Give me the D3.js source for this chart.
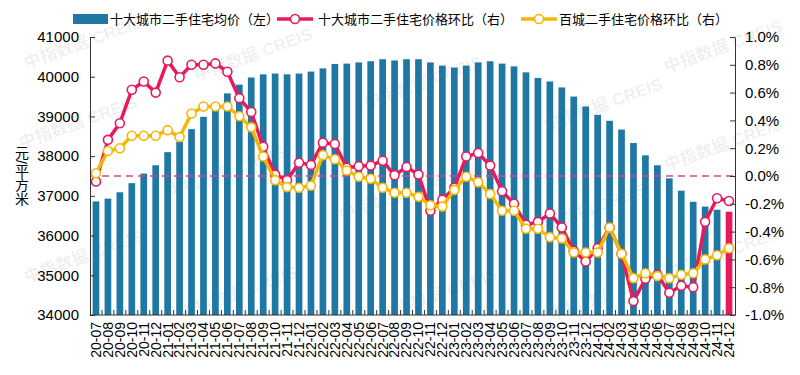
<!DOCTYPE html>
<html>
<head>
<meta charset="utf-8">
<script src="https://cdn.jsdelivr.net/npm/d3@7"></script>
<style>
  html, body { margin: 0; padding: 0; background: #fff; }
  svg { display: block; font-family: "Liberation Sans", Arial, "Noto Sans CJK SC", sans-serif; }
</style>
</head>
<body>
<svg id="chart" width="800" height="375"></svg>
<script>
// ---- data ----
const months = [
  "20-07","20-08","20-09","20-10","20-11","20-12",
  "21-01","21-02","21-03","21-04","21-05","21-06","21-07","21-08","21-09","21-10","21-11","21-12",
  "22-01","22-02","22-03","22-04","22-05","22-06","22-07","22-08","22-09","22-10","22-11","22-12",
  "23-01","23-02","23-03","23-04","23-05","23-06","23-07","23-08","23-09","23-10","23-11","23-12",
  "24-01","24-02","24-03","24-04","24-05","24-06","24-07","24-08","24-09","24-10","24-11","24-12"
];

// 十大城市二手住宅均价（元/平方米）
const avgPrice = [
  36860, 36930, 37090, 37320, 37560, 37770,
  38100, 38360, 38680, 38990, 39180, 39580, 39800, 39980, 40060, 40080, 40060, 40080,
  40130, 40210, 40320, 40330, 40360, 40390, 40440, 40410, 40440, 40440, 40360, 40280,
  40230, 40280, 40360, 40390, 40330, 40260, 40110, 39970, 39880, 39730, 39500, 39250,
  39040, 38890, 38670, 38330, 38020, 37770, 37440, 37130, 36850, 36730, 36650, 36600
];

// 十大城市二手住宅价格环比（%）
const tenCityMoM = [
  -0.04, 0.26, 0.38, 0.62, 0.68, 0.60,
  0.83, 0.71, 0.80, 0.80, 0.81, 0.75, 0.56, 0.46, 0.21, 0.01, -0.03, 0.095,
  0.08, 0.24, 0.23, 0.06, 0.07, 0.075, 0.11, 0.005, 0.065, 0.01, -0.25, -0.17,
  -0.085, 0.14, 0.165, 0.075, -0.11, -0.20, -0.35, -0.33, -0.27, -0.37, -0.54, -0.615,
  -0.52, -0.37, -0.56, -0.90, -0.74, -0.71, -0.84, -0.79, -0.80, -0.33, -0.16, -0.18
];

// 百城二手住宅价格环比（%）
const hundredCityMoM = [
  0.02, 0.18, 0.20, 0.29, 0.29, 0.29,
  0.33, 0.28, 0.45, 0.50, 0.50, 0.50, 0.43, 0.35, 0.14, -0.03, -0.08, -0.085,
  -0.07, 0.15, 0.12, 0.04, -0.005, -0.02, -0.085, -0.12, -0.12, -0.15, -0.21, -0.22,
  -0.10, -0.005, -0.045, -0.13, -0.25, -0.25, -0.38, -0.38, -0.44, -0.45, -0.55, -0.55,
  -0.55, -0.37, -0.56, -0.735, -0.70, -0.72, -0.735, -0.71, -0.70, -0.60, -0.57, -0.52
];

const leftTicks  = [34000, 35000, 36000, 37000, 38000, 39000, 40000, 41000];
const rightTicks = [-1.0, -0.8, -0.6, -0.4, -0.2, 0.0, 0.2, 0.4, 0.6, 0.8, 1.0];

const legendLabels = ["十大城市二手住宅均价（左）", "十大城市二手住宅价格环比（右）", "百城二手住宅价格环比（右）"];
const yTitle = "元/平方米";

// ---- colours / layout ----
const BLUE = "#1f77a4", RED = "#e8195c", YELLOW = "#f6b700", ZERO = "#d4458c";
const L = 90, R = 735, T = 37, B = 315;

const svg = d3.select("#chart");

// 水印
const gMark = svg.append("g").attr("fill", "#000").attr("fill-opacity", 0.07)
  .attr("font-size", 17).attr("font-weight", "bold");
[[85,48],[255,60],[425,88],[605,110],[725,52],[80,128],[228,178],[400,200],
 [590,215],[725,150],[725,258],[85,262],[240,298],[440,300],[610,300]].forEach(([cx,cy])=>{
  gMark.append("text").attr("text-anchor","middle")
    .attr("transform",`translate(${cx},${cy}) rotate(-20)`)
    .text("中指数据 CREIS");
});

const x = d3.scaleBand().domain(months).range([L, R]).paddingInner(0.44).paddingOuter(0.22);
const yL = d3.scaleLinear().domain([34000, 41000]).range([B, T]);
const yR = d3.scaleLinear().domain([-1, 1]).range([B, T]);
const cx = d => x(d) + x.bandwidth() / 2;

// bars
svg.append("g").selectAll("rect")
  .data(months)
  .join("rect")
  .attr("x", d => x(d))
  .attr("width", x.bandwidth())
  .attr("y", (d, i) => yL(avgPrice[i]))
  .attr("height", (d, i) => B - yL(avgPrice[i]))
  .attr("fill", (d, i) => i === months.length - 1 ? RED : BLUE);

// 0% 虚线
svg.append("line")
  .attr("x1", L).attr("x2", R).attr("y1", yR(0)).attr("y2", yR(0))
  .attr("stroke", ZERO).attr("stroke-width", 1.5).attr("stroke-dasharray", "7,5");

// lines
function drawSeries(vals, color){
  const g = svg.append("g");
  const line = d3.line().x((d, i) => cx(months[i])).y(d => yR(d));
  g.append("path").datum(vals).attr("d", line)
    .attr("fill", "none").attr("stroke", color).attr("stroke-width", 3.5)
    .attr("stroke-linejoin", "round");
  g.selectAll("circle").data(vals).join("circle")
    .attr("cx", (d, i) => cx(months[i])).attr("cy", d => yR(d)).attr("r", 4.5)
    .attr("fill", "#fff").attr("stroke", color).attr("stroke-width", 1.6);
}
drawSeries(tenCityMoM, RED);
drawSeries(hundredCityMoM, YELLOW);

// axes
const axisColor = "#333";
const gl = svg.append("g").attr("transform", `translate(${L},0)`)
  .call(d3.axisLeft(yL).tickValues(leftTicks).tickSizeInner(-5).tickSizeOuter(0).tickPadding(11).tickFormat(d3.format("d")));
const gr = svg.append("g").attr("transform", `translate(${R},0)`)
  .call(d3.axisRight(yR).tickValues(rightTicks).tickSizeInner(-5).tickSizeOuter(0).tickPadding(10).tickFormat(d => d.toFixed(1) + "%"));
[gl, gr].forEach(g => {
  g.select(".domain").attr("stroke", axisColor);
  g.selectAll(".tick line").attr("stroke", axisColor);
  g.selectAll(".tick text").attr("font-size", 15).attr("fill", "#000")
    .attr("font-family", "'Liberation Sans', Arial, sans-serif");
});

// x axis
const gx = svg.append("g").attr("transform", `translate(0,${B})`)
  .call(d3.axisBottom(x).tickSize(0).tickPadding(0));
gx.select(".domain").remove();
gx.append("line").attr("x1", L).attr("x2", R).attr("stroke", axisColor);
gx.selectAll(".tick text")
  .attr("font-size", 14).attr("fill", "#000")
  .attr("font-family", "'Liberation Sans', Arial, sans-serif")
  .attr("text-anchor", "end").attr("dy", "0.35em")
  .attr("transform", "translate(0,7) rotate(-90)");
// minor ticks between categories
gx.append("g").selectAll("line")
  .data(months.slice(1))
  .join("line")
  .attr("x1", d => x(d) - x.step() * x.paddingInner() / 2)
  .attr("x2", d => x(d) - x.step() * x.paddingInner() / 2)
  .attr("y1", 0).attr("y2", -5)
  .attr("stroke", axisColor);

// y label (竖排)
svg.append("text")
  .attr("x", 21).attr("y", 146)
  .style("writing-mode", "vertical-rl")
  .attr("font-size", 14)
  .attr("font-family", "'Liberation Sans', 'Noto Sans CJK SC', sans-serif")
  .text(yTitle);

// legend
const gLeg = svg.append("g").attr("font-size", 13).attr("font-family", "'Noto Sans CJK SC', sans-serif");
const legY = 19;
gLeg.append("rect").attr("x", 73).attr("y", legY - 5).attr("width", 35).attr("height", 10).attr("fill", BLUE);
gLeg.append("text").attr("x", 110).attr("y", legY).attr("dy", "0.35em").text(legendLabels[0]);
[[277, RED, legendLabels[1], 318], [521, YELLOW, legendLabels[2], 559]].forEach(([lx, c, t, tx]) => {
  gLeg.append("line").attr("x1", lx).attr("x2", lx + 36).attr("y1", legY).attr("y2", legY)
    .attr("stroke", c).attr("stroke-width", 3.5);
  gLeg.append("circle").attr("cx", lx + 18).attr("cy", legY).attr("r", 4.5)
    .attr("fill", "#fff").attr("stroke", c).attr("stroke-width", 1.6);
  gLeg.append("text").attr("x", tx).attr("y", legY).attr("dy", "0.35em").text(t);
});
</script>
</body>
</html>
